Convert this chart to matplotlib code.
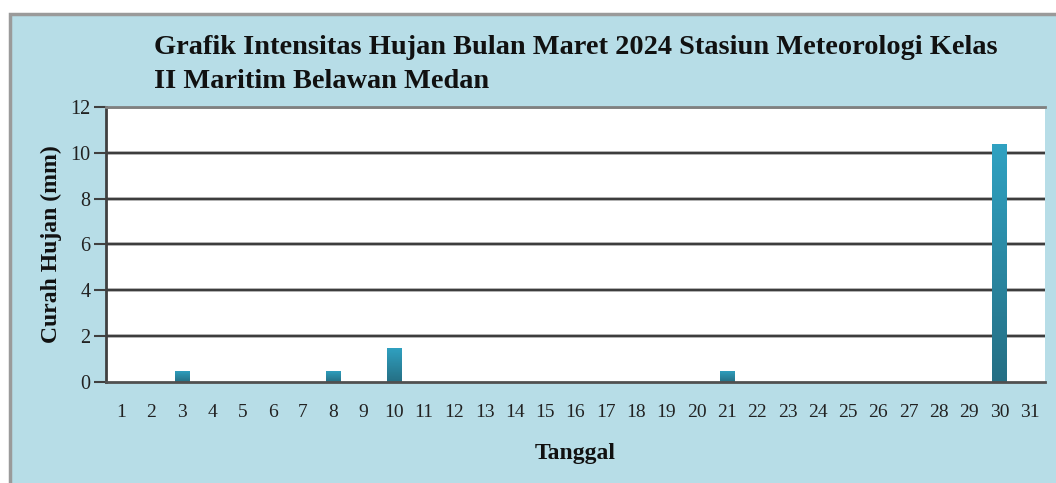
import matplotlib
matplotlib.use("Agg")
import matplotlib.pyplot as plt
from matplotlib.patches import Rectangle
from matplotlib.colors import LinearSegmentedColormap
import numpy as np

days = list(range(1, 32))
rain = [0, 0, 0.5, 0, 0, 0, 0, 0.5, 0, 1.5, 0, 0, 0, 0, 0, 0, 0, 0, 0, 0,
        0.5, 0, 0, 0, 0, 0, 0, 0, 0, 10.4, 0]
yticks = [0, 2, 4, 6, 8, 10, 12]
title = "Grafik Intensitas Hujan Bulan Maret 2024 Stasiun Meteorologi Kelas\nII Maritim Belawan Medan"

W, H = 1056, 483
fig = plt.figure(figsize=(W / 100, H / 100), dpi=100)
fig.patch.set_facecolor("white")

# light blue panel with grey border (top/left)
fig.patches.append(Rectangle((10 / W, -0.1), 1.2, 1.1 - 14 / H, transform=fig.transFigure,
                             facecolor="#b7dde7", edgecolor="#9a9a9a", linewidth=2.5,
                             zorder=-5))

ax = fig.add_axes([106 / W, 1 - 382 / H, (1045 - 106) / W, (382 - 107) / H])
ax.set_zorder(2)
ax.set_facecolor("white")

for y in yticks[1:]:
    ax.axhline(y, color="#a0a0a0", lw=2.6, zorder=1)
    ax.axhline(y, color="#202020", lw=1.1, zorder=1.1)

bars = ax.bar(days, rain, width=0.47, color="#2b8fab", zorder=2)
grad = np.linspace(0, 1, 256).reshape(-1, 1)
cmap = LinearSegmentedColormap.from_list("g", ["#256f84", "#30a2c2"])
for b in bars:
    h = b.get_height()
    if h <= 0:
        continue
    x0 = b.get_x()
    w = b.get_width()
    im = ax.imshow(grad, extent=(x0, x0 + w, 0, h), origin="lower", aspect="auto",
                   cmap=cmap, zorder=2.1)
    im.set_clip_path(b)
ax.set_xlim(0.5, 31.5)
ax.set_ylim(0, 12)

ax.set_xticks(days)
ax.set_xticklabels([str(d) for d in days], fontfamily="Liberation Serif", fontsize=14,
                   color="#222222")
ax.set_yticks(yticks)
ax.set_yticklabels([str(v) for v in yticks], fontfamily="Liberation Serif", fontsize=14.5,
                   color="#222222")
ax.tick_params(axis="x", length=0, pad=16)
ax.tick_params(axis="y", length=9, width=1.5, color="#404040", pad=2)

ax.spines["right"].set_visible(False)
ax.spines["top"].set_color("#808080")
ax.spines["top"].set_linewidth(2)
ax.spines["left"].set_color("#404040")
ax.spines["left"].set_linewidth(2)
ax.spines["bottom"].set_color("#505050")
ax.spines["bottom"].set_linewidth(2)

ax.set_xlabel("Tanggal", fontfamily="Liberation Serif", fontweight="bold", fontsize=17,
              labelpad=16, color="#111111")
ax.set_ylabel("Curah Hujan (mm)", fontfamily="Liberation Serif", fontweight="bold",
              fontsize=17, labelpad=6, color="#111111")

fig.text(154 / W, 1 - 35 / H, title, ha="left", va="top", fontfamily="Liberation Serif",
         fontweight="bold", fontsize=20.4, color="#111111", linespacing=1.45)

fig.savefig("out.png", dpi=100)
